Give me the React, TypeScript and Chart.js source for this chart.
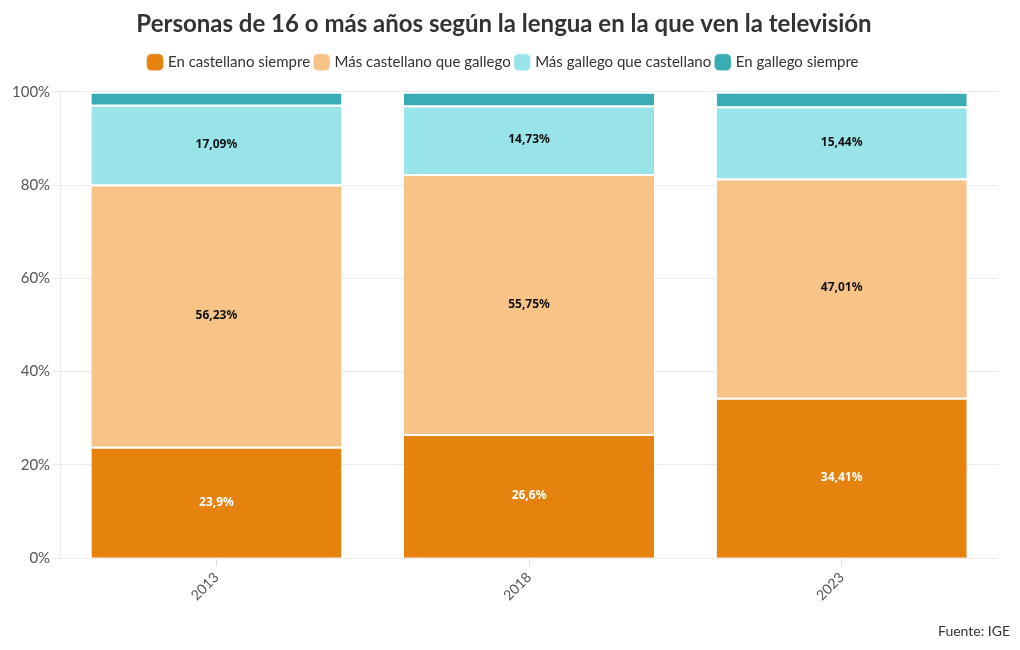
import React, { useEffect, useRef } from "react";
import { Chart, registerables } from "chart.js";

Chart.register(...registerables);

const years = ["2013", "2018", "2023"];
const seriesNames = [
  "En castellano siempre",
  "Más castellano que gallego",
  "Más gallego que castellano",
  "En gallego siempre",
];
const castellanoSiempre = [23.9, 26.6, 34.41];
const masCastellano = [56.23, 55.75, 47.01];
const masGallego = [17.09, 14.73, 15.44];
const galegoSiempre = [2.78, 2.92, 3.14];
const labelTexts = [
  ["23,9%", "26,6%", "34,41%"],
  ["56,23%", "55,75%", "47,01%"],
  ["17,09%", "14,73%", "15,44%"],
  [null, null, null],
];
const colors = ["#E6820E", "#F8C387", "#98E4E8", "#38ADB3"];
const labelColors = ["#ffffff", "#111111", "#111111", "#111111"];
const yTicks = [0, 20, 40, 60, 80, 100];

const labelPlugin = {
  id: "segLabels",
  afterDatasetsDraw(chart: any) {
    const ctx = chart.ctx;
    ctx.save();
    ctx.font = "bold 12px 'Noto Sans'";
    ctx.textAlign = "center";
    ctx.textBaseline = "middle";
    chart.data.datasets.forEach((ds: any, di: number) => {
      const meta = chart.getDatasetMeta(di);
      meta.data.forEach((bar: any, i: number) => {
        const t = labelTexts[di][i];
        if (!t) return;
        const cy = (bar.y + bar.base) / 2;
        ctx.fillStyle = labelColors[di];
        ctx.fillText(t, bar.x, cy);
      });
    });
    ctx.restore();
  },
};

const legendSpace = {
  id: "legendSpace",
  beforeInit(chart: any) {
    const lg = chart.legend;
    const orig = lg.fit;
    lg.fit = function () {
      orig.call(this);
      this.height += 12;
    };
  },
};

const sourcePlugin = {
  id: "sourceText",
  afterDraw(chart: any) {
    const ctx = chart.ctx;
    ctx.save();
    ctx.font = "14px Lato";
    ctx.fillStyle = "#333";
    ctx.textAlign = "right";
    ctx.textBaseline = "middle";
    ctx.fillText("Fuente: IGE", 1010, 631);
    ctx.restore();
  },
};

export default function App() {
  const ref = useRef<HTMLCanvasElement>(null);
  useEffect(() => {
    const values = [castellanoSiempre, masCastellano, masGallego, galegoSiempre];
    const chart = new Chart(ref.current!, {
      type: "bar",
      data: {
        labels: years,
        datasets: seriesNames.map((name, i) => ({
          label: name,
          data: values[i],
          backgroundColor: colors[i],
          borderColor: "#ffffff",
          borderWidth: { top: 2, bottom: 0, left: 0, right: 0 },
          borderSkipped: false,
          barPercentage: 0.8,
          categoryPercentage: 1,
        })),
      },
      options: {
        responsive: false,
        animation: false,
        layout: { padding: { left: 10, right: 22, top: 0, bottom: 43 } },
        plugins: {
          title: {
            display: true,
            text: "Personas de 16 o más años según la lengua en la que ven la televisión",
            font: { family: "Lato", size: 24, weight: "bold" },
            color: "#333333",
            padding: { top: 10, bottom: 10 },
          },
          legend: {
            display: true,
            labels: {
              font: { family: "Lato", size: 15 },
              color: "#333333",
              usePointStyle: true,
              pointStyle: "rectRounded",
              boxWidth: 11,
              boxHeight: 14,
              padding: 6,
            },
          },
          tooltip: { enabled: false },
        },
        scales: {
          x: {
            stacked: true,
            grid: { drawOnChartArea: false, drawTicks: true, tickLength: 8, color: "#dddddd", offset: false },
            border: { display: false },
            ticks: {
              color: "#555555",
              font: { family: "Lato", size: 14 },
              maxRotation: 45,
              minRotation: 45,
            },
          },
          y: {
            stacked: true,
            min: 0,
            max: 100,
            afterBuildTicks(axis: any) {
              axis.ticks = yTicks.map((v) => ({ value: v }));
            },
            grid: { color: "#ececec", tickLength: 8 },
            border: { display: true, color: "#ececec" },
            ticks: {
              color: "#555555",
              font: { family: "Lato", size: 15 },
              callback: (v: any) => v + "%",
              padding: 2,
            },
          },
        },
      },
      plugins: [labelPlugin, sourcePlugin, legendSpace],
    });
    return () => chart.destroy();
  }, []);
  return (
    <div style={{ position: "absolute", left: 0, top: 0, width: 1020, height: 650, background: "#fff" }}>
      <canvas ref={ref} width={1020} height={650} />
    </div>
  );
}
